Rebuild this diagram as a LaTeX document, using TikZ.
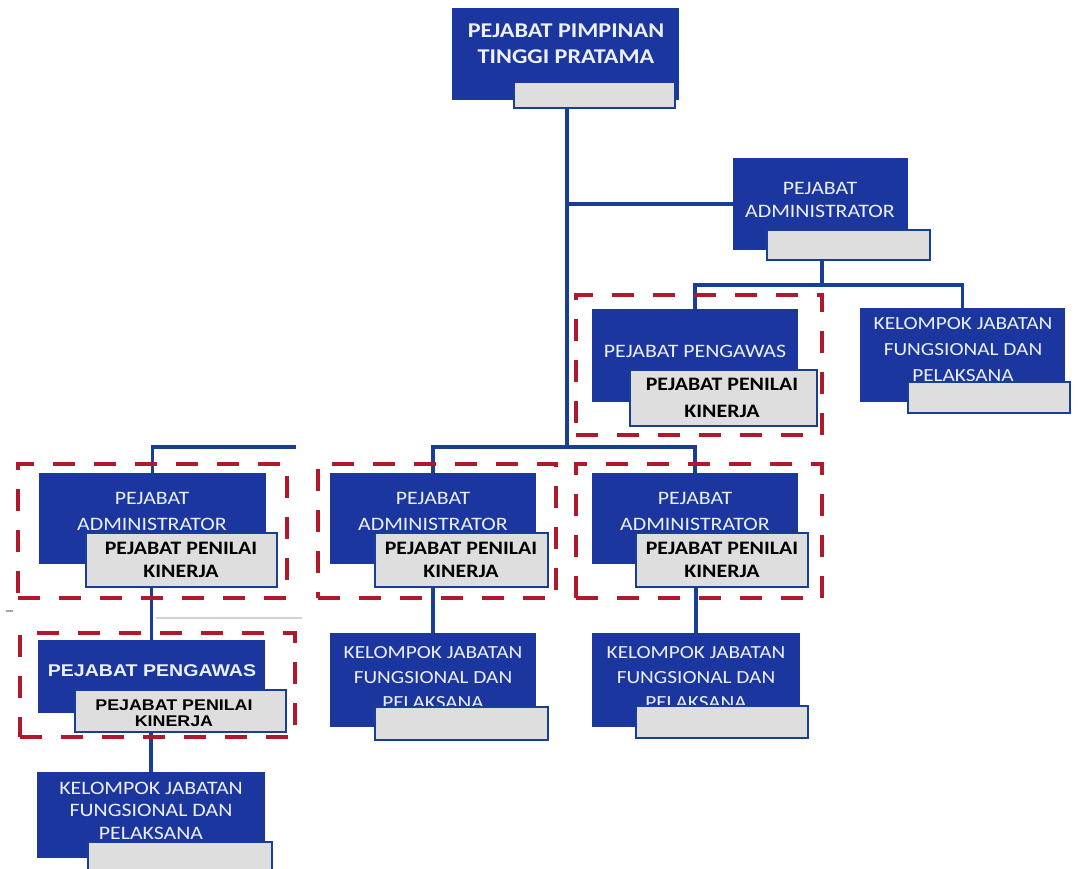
\documentclass[tikz,border=0pt]{standalone}
\usepackage{fontspec}
\setmainfont[FakeStretch=1.15]{Carlito}
\newfontfamily\arialx[FakeStretch=1.15]{Liberation Sans}
\definecolor{boxblue}{RGB}{28,54,160}
\definecolor{lineblue}{RGB}{25,62,150}
\definecolor{dashred}{RGB}{176,24,44}
\definecolor{txtwhite}{RGB}{236,240,250}
\definecolor{graybox}{RGB}{222,222,222}
\pgfdeclarelayer{bg}
\pgfsetlayers{bg,main}
\newcommand\mkbox[6]{\node[#1, minimum width={#5-#3}, minimum height={#6-#4}] (#2) at ({(#3+#5)/2},{(#4+#6)/2}) {};}
\begin{document}
\begin{tikzpicture}[x=1pt,y=-1pt,
  bluebox/.style={fill=boxblue, draw=none, inner sep=0pt, outer sep=0pt},
  graylbl/.style={fill=graybox, draw=lineblue, line width=2.4pt, inner sep=0pt, outer sep=0pt},
  redframe/.style={draw=dashred, line width=4.5pt, dash pattern=on 22pt off 19pt, inner sep=0pt, outer sep=0pt},
  conn/.style={draw=lineblue, line width=3.2pt},
  wtxt/.style={text=txtwhite, align=center, inner sep=0pt},
  ktxt/.style={text=black, align=center, inner sep=0pt}]
\useasboundingbox (0,0) rectangle (1078,869);

% top
\mkbox{bluebox}{topb}{452}{8}{679}{100}
\node[wtxt, font=\bfseries\fontsize{21}{26}\selectfont] (toptx) at (566,44) {PEJABAT PIMPINAN\\TINGGI PRATAMA};
\mkbox{graylbl}{topg}{514}{82}{675}{108}

% administrator top right
\mkbox{bluebox}{adb}{733}{158}{908}{250}
\node[wtxt, font=\fontsize{19}{23}\selectfont] (adtx) at (820,199.5) {PEJABAT\\ADMINISTRATOR};
\mkbox{graylbl}{adg}{767}{230}{930}{260}

% pengawas right
\mkbox{redframe}{pgf}{576}{295}{822}{435}
\mkbox{bluebox}{pgb}{592}{309}{798}{402}
\node[wtxt, font=\fontsize{19}{23}\selectfont] (pgtx) at (695,351) {PEJABAT PENGAWAS};
\mkbox{graylbl}{pgg}{630}{370}{817}{426}
\node[ktxt, font=\bfseries\fontsize{19}{27}\selectfont] (pggtx) at (722,397.5) {PEJABAT PENILAI\\KINERJA};

% kelompok top right
\mkbox{bluebox}{kab}{860}{308}{1065}{402}
\node[wtxt, font=\fontsize{18.5}{26}\selectfont] (katx) at (963,350) {KELOMPOK JABATAN\\FUNGSIONAL DAN\\PELAKSANA};
\mkbox{graylbl}{kag}{908}{382}{1070}{413}

% administrator row
\mkbox{redframe}{af1}{18}{464}{287}{598}
\mkbox{bluebox}{ab1}{39}{473}{266}{564}
\node[wtxt, font=\fontsize{19}{26}\selectfont] (a1tx) at (152,511) {PEJABAT\\ADMINISTRATOR};
\mkbox{graylbl}{ag1}{86}{533}{277}{587}
\node[ktxt, font=\bfseries\fontsize{19}{23}\selectfont] (g1tx) at (181,559.5) {PEJABAT PENILAI\\KINERJA};

\mkbox{redframe}{af2}{318}{464}{556}{598}
\mkbox{bluebox}{ab2}{330}{473}{536}{564}
\node[wtxt, font=\fontsize{19}{26}\selectfont] (a2tx) at (433,511) {PEJABAT\\ADMINISTRATOR};
\mkbox{graylbl}{ag2}{375}{533}{548}{587}
\node[ktxt, font=\bfseries\fontsize{19}{23}\selectfont] (g2tx) at (461,559.5) {PEJABAT PENILAI\\KINERJA};

\mkbox{redframe}{af3}{576}{464}{822}{598}
\mkbox{bluebox}{ab3}{592}{473}{798}{564}
\node[wtxt, font=\fontsize{19}{26}\selectfont] (a3tx) at (695,511) {PEJABAT\\ADMINISTRATOR};
\mkbox{graylbl}{ag3}{636}{533}{808}{587}
\node[ktxt, font=\bfseries\fontsize{19}{23}\selectfont] (g3tx) at (722,559.5) {PEJABAT PENILAI\\KINERJA};

% kelompok lower middle / right
\mkbox{bluebox}{kbb}{330}{633}{536}{727}
\node[wtxt, font=\fontsize{18.5}{25}\selectfont] (kbtx) at (433,678) {KELOMPOK JABATAN\\FUNGSIONAL DAN\\PELAKSANA};
\mkbox{graylbl}{kbg}{375}{707}{548}{740}

\mkbox{bluebox}{kcb}{592}{633}{800}{727}
\node[wtxt, font=\fontsize{18.5}{25}\selectfont] (kctx) at (696,678) {KELOMPOK JABATAN\\FUNGSIONAL DAN\\PELAKSANA};
\mkbox{graylbl}{kcg}{636}{706}{808}{738}

% pengawas lower left
\mkbox{redframe}{lpf}{20}{633}{295}{737}
\mkbox{bluebox}{lpb}{38}{640}{265}{713}
\node[wtxt, font=\arialx\bfseries\fontsize{17}{20}\selectfont] (lptx) at (152,671) {PEJABAT PENGAWAS};
\mkbox{graylbl}{lpg}{75}{690}{286}{732}
\node[ktxt, font=\arialx\bfseries\fontsize{15.5}{16.5}\selectfont] (lpgtx) at (174,713) {PEJABAT PENILAI\\KINERJA};

% kelompok lower left
\mkbox{bluebox}{kdb}{37}{772}{265}{858}
\node[wtxt, font=\fontsize{19}{22.5}\selectfont] (kdtx) at (151,810.5) {KELOMPOK JABATAN\\FUNGSIONAL DAN\\PELAKSANA};
\mkbox{graylbl}{kdg}{88}{842}{272}{885}

% junctions
\coordinate (jmid) at (567,447);
\coordinate (jr) at (822,285);
\coordinate (lend) at (296,447);

\begin{pgfonlayer}{bg}
\fill[white] (0,0) rectangle (1078,869);
\draw[conn] (jmid |- topg.south) -- (jmid);
\draw[conn] (jmid |- adb.west) -- (adb.west);
\draw[conn] (jr |- adg.south) -- (jr);
\draw[conn] (pgb.north) -- (pgb.north |- jr) -| (kab.north);
\draw[conn] (ab2.north) -- (ab2.north |- jmid) -- (ab3.north |- jmid) -- (ab3.north);
\draw[conn] (ab1.north) -- (ab1.north |- lend) -- (lend);
\draw[conn] (lpb.north |- ag1.south) -- (lpb.north);
\draw[conn] (kbb.north |- ag2.south) -- (kbb.north);
\draw[conn] (kcb.north |- ag3.south) -- (kcb.north);
\draw[conn] (kdb.north |- lpg.south) -- (kdb.north);
\draw[gray!35, line width=1.2pt] (156,618) -- (302,618);
\draw[gray!70, line width=1.5pt] (6,611) -- (13,611);
\end{pgfonlayer}
\end{tikzpicture}
\end{document}
